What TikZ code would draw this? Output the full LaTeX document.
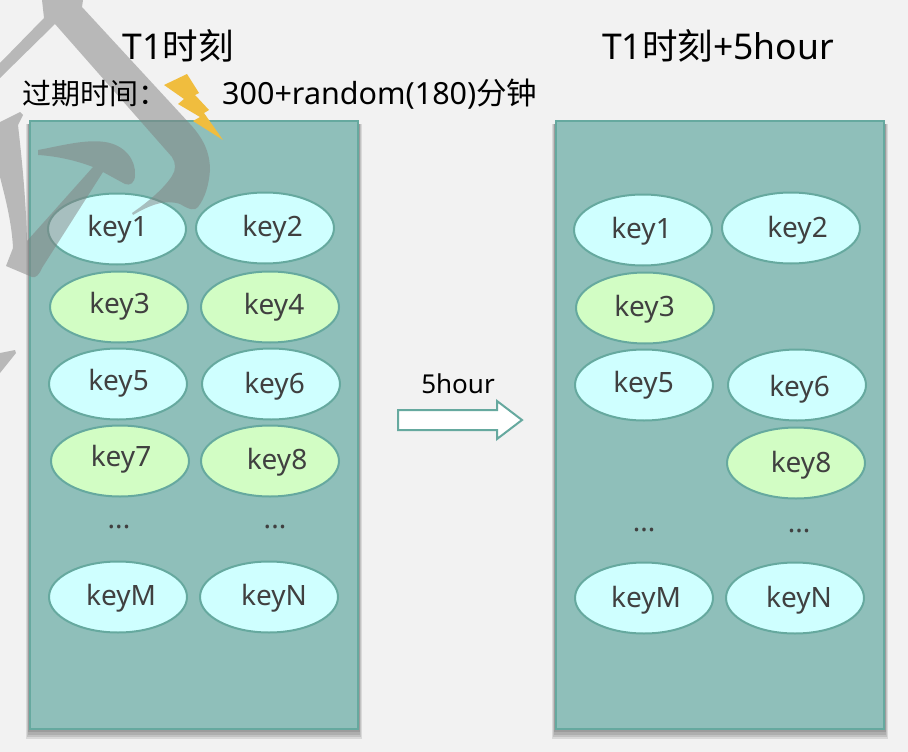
\documentclass[tikz,border=0pt]{standalone}
\usepackage{fontspec}
\setmainfont{Noto Sans}
\newfontfamily\cjk{Noto Sans CJK SC}
\usetikzlibrary{shapes.geometric,shapes.arrows}
\definecolor{bgc}{HTML}{F2F2F2}
\definecolor{panelc}{HTML}{8FBFBA}
\definecolor{edgec}{HTML}{66A99F}
\definecolor{bluek}{HTML}{CFFFFF}
\definecolor{greenk}{HTML}{D2FDC4}
\definecolor{boltc}{HTML}{F0BD3E}
\definecolor{keytxt}{HTML}{404040}
\tikzset{
  panel/.style={draw=edgec,line width=2pt,fill=panelc,minimum width=328pt,minimum height=608pt,inner sep=0pt},
  panelbase/.style={minimum width=330pt,minimum height=610pt,inner sep=0pt},
  shadowlayer/.style={fill=black,fill opacity=0.10},
  keyshape/.style={ellipse,draw=edgec,line width=2pt,minimum width=138pt,minimum height=71pt,inner sep=0pt},
  bluekey/.style={keyshape,fill=bluek},
  greenkey/.style={keyshape,fill=greenk},
  keylabel/.style={text=keytxt,font=\fontsize{28}{30}\selectfont,inner sep=0pt,yshift=-2pt},
  dotlabel/.style={keylabel,yshift=-4pt},
  titletext/.style={text=black,font=\fontsize{35.5}{38}\selectfont,inner sep=0pt},
  linetext/.style={text=black,font=\fontsize{29}{32}\selectfont,inner sep=0pt},
  wmark/.style={fill=black!50,fill opacity=0.5,draw=none},
}
\begin{document}
\begin{tikzpicture}[x=1pt,y=-1pt]
\useasboundingbox[fill=bgc] (0,0) rectangle (908,752);
% panels
\node[panelbase] (sl) at (194,425) {};
\node[panelbase] (sr) at (720,425) {};
\foreach \d in {1,2,3,4}{
  \fill[shadowlayer] ([xshift={-0.6*\d*1pt},yshift={-2.2*\d*1pt}]sl.south west) rectangle ([xshift={0.6*\d*1pt},yshift=-4pt]sl.north east);
  \fill[shadowlayer] ([xshift={-0.6*\d*1pt},yshift={-2.2*\d*1pt}]sr.south west) rectangle ([xshift={0.6*\d*1pt},yshift=-4pt]sr.north east);
}
\node[panel] (pl) at (194,425) {};
\node[panel] (pr) at (720,425) {};
% left keys
\node[bluekey] (a1) at (117,229) {};
\node[bluekey] (a2) at (265,228) {};
\node[greenkey] (a3) at (119,307) {};
\node[greenkey] (a4) at (270,307) {};
\node[bluekey] (a5) at (118,384) {};
\node[bluekey] (a6) at (271,384) {};
\node[greenkey] (a7) at (120,461) {};
\node[greenkey] (a8) at (270,461) {};
\node[bluekey] (aM) at (118,597) {};
\node[bluekey] (aN) at (269,597) {};
% right keys
\node[bluekey] (b1) at (643,230) {};
\node[bluekey] (b2) at (791,228) {};
\node[greenkey] (b3) at (645,308) {};
\node[bluekey] (b5) at (644,385) {};
\node[bluekey] (b6) at (797,385) {};
\node[greenkey] (b8) at (796,463) {};
\node[bluekey] (bM) at (644,598) {};
\node[bluekey] (bN) at (795,598) {};
% watermark
\fill[wmark] (42,0) -- (83,0) -- (82,7) -- (190,124) .. controls (203,138) and (210,152) .. (210,170)
  .. controls (209,185) and (205,198) .. (198,207) .. controls (195,211) and (190,210) .. (180,204)
  .. controls (165,199) and (150,205) .. (133,215) -- (132,213) .. controls (145,204) and (163,190) .. (172,176)
  .. controls (176,170) and (176,163) .. (172,157) -- (55,24) -- (0,78) -- (0,63) -- (44,18) -- cycle;
\fill[wmark] (38,150) .. controls (60,146) and (85,139) .. (105,142) .. controls (125,145) and (136,160) .. (135,175)
  .. controls (135,183) and (130,186) .. (125,184) -- (103,172) -- (42,268) .. controls (39,275) and (36,278) .. (32,277)
  -- (6,266) -- (13,248) .. controls (12,225) and (6,200) .. (0,177) -- (0,122)
  -- (20,112) -- (23,115) -- (18,125) .. controls (22,160) and (26,200) .. (27,241) -- (93,167)
  .. controls (75,160) and (55,156) .. (38,155) -- cycle;
\fill[wmark] (0,353) -- (15,350) -- (16,353) -- (0,373) -- cycle;
% lightning
\fill[boltc] (164,85) -- (187,74) -- (199,93) -- (195,95) -- (209,110) -- (204,113) -- (223,140)
  -- (193,121) -- (200,117) -- (178,104) -- (184,99) -- cycle;
% labels
\node[keylabel] (t1) at (117.5,227) {key1};
\node[keylabel] (t2) at (272.5,227) {key2};
\node[keylabel] (t3) at (119.5,304) {key3};
\node[keylabel] (t4) at (274,305) {key4};
\node[keylabel] (t5) at (118.5,381) {key5};
\node[keylabel] (t6) at (274.5,384) {key6};
\node[keylabel] (t7) at (121,457) {key7};
\node[keylabel] (t8) at (277,460) {key8};
\node[dotlabel] (d1) at (119,521) {...};
\node[dotlabel] (d2) at (275,521) {...};
\node[keylabel] (tM) at (121,596) {keyM};
\node[keylabel] (tN) at (274,596) {keyN};
\node[keylabel] (u1) at (641.5,229) {key1};
\node[keylabel] (u2) at (797.5,228) {key2};
\node[keylabel] (u3) at (644.5,307) {key3};
\node[keylabel] (u5) at (643.5,383) {key5};
\node[keylabel] (u6) at (799.5,387) {key6};
\node[keylabel] (u8) at (801,463) {key8};
\node[dotlabel] (e1) at (644,524) {...};
\node[dotlabel] (e2) at (799,525) {...};
\node[keylabel] (uM) at (646,598) {keyM};
\node[keylabel] (uN) at (799,598) {keyN};
% titles
\node[titletext,anchor=center] (ttl) at (178,46) {T1{\cjk 时刻}};
\node[titletext,anchor=center] (ttr) at (718,46) {T1{\cjk 时刻}+5hour};
\node[linetext,anchor=west] (exp) at (22,94) {{\cjk 过期时间：}};
\node[linetext,anchor=west,font=\fontsize{30.5}{32}\selectfont] (val) at (222,94) {300+random(180){\cjk 分钟}};
% arrow
\node[linetext,font=\fontsize{26}{30}\selectfont] (hr) at (458,384) {5hour};
\fill[white,draw=edgec,line width=2pt] (398,410) -- (497,410) -- (497,401) -- (522,420) -- (497,439) -- (497,430) -- (398,430) -- cycle;
\end{tikzpicture}
\end{document}
